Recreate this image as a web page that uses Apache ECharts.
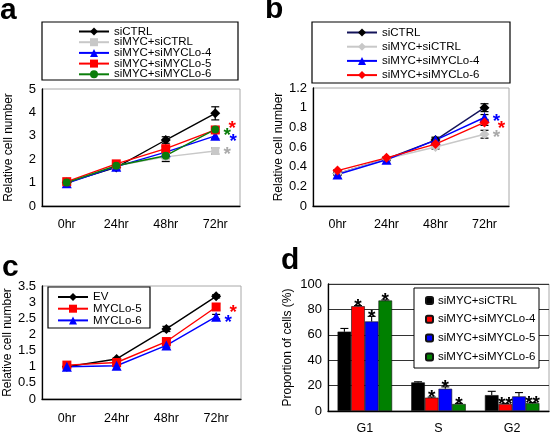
<!DOCTYPE html>
<html><head><meta charset="utf-8">
<script src="https://cdn.jsdelivr.net/npm/echarts@6/dist/echarts.min.js"></script>
<style>html,body{margin:0;padding:0;background:#fff}#c{width:550px;height:435px}</style>
</head><body><div id="c"></div>
<script>
// ---------- data ----------
const hours = ['0hr', '24hr', '48hr', '72hr'];
const phases = ['G1', 'S', 'G2'];

// panel a
const aNames = ['siCTRL', 'siMYC+siCTRL', 'siMYC+siMYCLo-4', 'siMYC+siMYCLo-5', 'siMYC+siMYCLo-6'];
const aCTRL = [1.0, 1.65, 2.82, 3.96];
const aMYC = [1.0, 1.72, 2.1, 2.35];
const aLo4 = [0.97, 1.68, 2.3, 3.0];
const aLo5 = [1.04, 1.8, 2.45, 3.25];
const aLo6 = [1.0, 1.72, 2.15, 3.27];
const aErrCTRL = [0.05, 0.1, 0.14, 0.28];
const aErrMYC = [0.05, 0.08, 0.2, 0.13];
const aErrLo4 = [0.05, 0.08, 0.1, 0.12];
const aErrLo5 = [0.05, 0.05, 0.1, 0.12];
const aErrLo6 = [0.05, 0.08, 0.12, 0.1];
const aStarVals = [2.35, 2.91, 3.46, 3.16]; // gray, blue, red, green

// panel b
const bNames = ['siCTRL', 'siMYC+siCTRL', 'siMYC+siMYCLo-4', 'siMYC+siMYCLo-6'];
const bCTRL = [0.33, 0.48, 0.67, 1.0];
const bMYC = [0.33, 0.48, 0.6, 0.73];
const bLo4 = [0.32, 0.47, 0.67, 0.9];
const bLo6 = [0.36, 0.49, 0.63, 0.85];
const bErrCTRL = [0.01, 0.01, 0.03, 0.04];
const bErrMYC = [0.01, 0.01, 0.02, 0.04];
const bErrLo4 = [0.01, 0.01, 0.02, 0.03];
const bErrLo6 = [0.01, 0.01, 0.02, 0.03];
const bStarVals = [0.74, 0.9, 0.83]; // gray, blue, red

// panel c
const cNames = ['EV', 'MYCLo-5', 'MYCLo-6'];
const cEV = [1.0, 1.24, 2.17, 3.18];
const cLo5 = [1.05, 1.13, 1.78, 2.85];
const cLo6 = [1.0, 1.03, 1.66, 2.55];
const cErrEV = [0.03, 0.03, 0.08, 0.05];
const cErrLo5 = [0.03, 0.05, 0.06, 0.1];
const cErrLo6 = [0.03, 0.03, 0.05, 0.07];
const cStarVals = [2.81, 2.5]; // red, blue

// panel d
const dNames = ['siMYC+siCTRL', 'siMYC+siMYCLo-4', 'siMYC+siMYCLo-5', 'siMYC+siMYCLo-6'];
const dCTRL = [62.5, 22.5, 12.5];
const dLo4 = [82.5, 10.5, 5.5];
const dLo5 = [70.5, 17.5, 11.5];
const dLo6 = [87, 5.5, 6.2];
const dErrCTRL = [2.5, 0.5, 3];
const dErrLo4 = [0.5, 0.5, 0.5];
const dErrLo5 = [4, 1.5, 3];
const dErrLo6 = [0.5, 0.5, 0.5];
const dStarCTRL = ['', '', ''];
const dStarLo4 = ['*', '*', '**'];
const dStarLo5 = ['*', '*', ''];
const dStarLo6 = ['*', '*', '**'];

// ---------- styles ----------
const FF = 'Liberation Sans, Arial, sans-serif';
const BLACK = '#000', GRAY = '#c8c8c8', BLUE = '#0000ff', RED = '#ff0000', GREEN = '#0a7d0a';
const STAR_FS = 19;

function xCat(gi, data, margin) {
  return {
    type: 'category', gridIndex: gi, data: data, boundaryGap: true,
    axisLine: { lineStyle: { color: '#000', width: 1.3 } },
    axisTick: { inside: true, length: 4, lineStyle: { color: '#000' } },
    axisLabel: { color: '#000', fontSize: 12.5, fontFamily: FF, margin: margin },
    splitLine: { show: false }
  };
}
function yVal(gi, min, max, interval, name, nameGap, split) {
  return {
    type: 'value', gridIndex: gi, min: min, max: max, interval: interval,
    name: name, nameLocation: 'middle', nameGap: nameGap,
    nameTextStyle: { color: '#000', fontSize: 12, fontFamily: FF },
    axisLine: { show: true, lineStyle: { color: '#000', width: 1.3 } },
    axisTick: { show: false },
    axisLabel: { color: '#000', fontSize: 13, fontFamily: FF, margin: 6 },
    splitLine: { show: !!split, lineStyle: { color: '#333', width: 1 } }
  };
}
function lineS(panel, name, gi, data, color, symbol, size, lineColor) {
  return {
    type: 'line', name: panel + '|' + name, xAxisIndex: gi, yAxisIndex: gi, data: data,
    symbol: symbol, symbolSize: size, showSymbol: true,
    itemStyle: { color: color }, lineStyle: { color: lineColor || color, width: 1.4 },
    z: 4, animation: false
  };
}
function errS(gi, vals, errs) {
  return {
    type: 'custom', xAxisIndex: gi, yAxisIndex: gi, z: 3, silent: true, animation: false,
    data: vals.map((v, i) => [i, v, errs[i]]),
    renderItem: function (params, api) {
      const x = api.value(0), v = api.value(1), e = api.value(2);
      const hi = api.coord([x, v + e]), lo = api.coord([x, v - e]);
      const w = 4, st = { stroke: '#000', lineWidth: 1.2 };
      return { type: 'group', children: [
        { type: 'line', shape: { x1: hi[0], y1: hi[1], x2: lo[0], y2: lo[1] }, style: st },
        { type: 'line', shape: { x1: hi[0] - w, y1: hi[1], x2: hi[0] + w, y2: hi[1] }, style: st },
        { type: 'line', shape: { x1: lo[0] - w, y1: lo[1], x2: lo[0] + w, y2: lo[1] }, style: st }
      ] };
    }
  };
}
function starS(gi, vals, colors, dxs) {
  return {
    type: 'custom', xAxisIndex: gi, yAxisIndex: gi, z: 6, silent: true, animation: false, clip: false,
    data: vals.map(v => [3, v]),
    renderItem: function (params, api) {
      const p = api.coord([api.value(0), api.value(1)]);
      return { type: 'text', style: {
        text: '*', x: p[0] + dxs[params.dataIndex], y: p[1] + STAR_FS * 0.22,
        align: 'center', verticalAlign: 'middle', fill: colors[params.dataIndex],
        font: 'bold ' + STAR_FS + 'px ' + FF } };
    }
  };
}
const BAR_GAP = 0.26;
function barS(name, data, color) {
  return {
    type: 'bar', name: 'd|' + name, xAxisIndex: 3, yAxisIndex: 3, data: data,
    barGap: '0%', barCategoryGap: (BAR_GAP * 100) + '%',
    itemStyle: { color: color, borderColor: '#111', borderWidth: 0.6 }, z: 3, animation: false
  };
}
function barErrS(vals, errs, stars, pos) {
  return {
    type: 'custom', xAxisIndex: 3, yAxisIndex: 3, z: 5, silent: true, animation: false, clip: false,
    data: vals.map((v, i) => [i, v, errs[i]]),
    renderItem: function (params, api) {
      const bw = api.size([1, 0])[0];
      const barW = bw * (1 - BAR_GAP) / 4;
      const v = api.value(1), e = api.value(2);
      const top = api.coord([api.value(0), v + e]);
      const base = api.coord([api.value(0), v]);
      const cx = top[0] + (pos - 1.5) * barW;
      const st = { stroke: '#000', lineWidth: 1.1 };
      const ch = [
        { type: 'line', shape: { x1: cx, y1: base[1], x2: cx, y2: top[1] }, style: st },
        { type: 'line', shape: { x1: cx - 4, y1: top[1], x2: cx + 4, y2: top[1] }, style: st }
      ];
      const s = stars[params.dataIndex];
      if (s) ch.push({ type: 'text', style: { text: s, x: cx, y: top[1] - 3 + STAR_FS * 0.22,
        align: 'center', verticalAlign: 'middle', fill: '#000', font: 'bold ' + STAR_FS + 'px ' + FF } });
      return { type: 'group', children: ch };
    }
  };
}
function legend(panel, names, o) {
  return Object.assign({
    orient: 'vertical', padding: 0, z: 10,
    itemWidth: 30, itemHeight: 10, selectedMode: false,
    textStyle: { color: '#000', fontSize: 11.5, fontFamily: FF },
    data: names.map(n => panel + '|' + n),
    formatter: n => n.split('|')[1]
  }, o);
}
function box(x, y, w, h) {
  return { type: 'rect', z: 5, shape: { x: x, y: y, width: w, height: h },
    style: { fill: '#fff', stroke: '#000', lineWidth: 1.2 } };
}
const gridStyle = { show: true, borderColor: '#a8a8a8', borderWidth: 1, backgroundColor: 'transparent' };

const option = {
  animation: false,
  grid: [
    Object.assign({ left: 42, top: 89, width: 198, height: 117 }, gridStyle),
    Object.assign({ left: 313, top: 88, width: 196, height: 118 }, gridStyle),
    Object.assign({ left: 42, top: 286, width: 199, height: 113 }, gridStyle),
    Object.assign({ left: 328, top: 284, width: 221, height: 130 }, gridStyle)
  ],
  xAxis: [xCat(0, hours, 12), xCat(1, hours, 12), xCat(2, hours, 13), xCat(3, phases, 11)],
  yAxis: [
    yVal(0, 0, 5, 1, 'Relative cell number', 27),
    yVal(1, 0, 1.2, 0.2, 'Relative cell number', 27),
    yVal(2, 0, 3.5, 0.5, 'Relative cell number', 27),
    yVal(3, 0, 100, 20, 'Proportion of cells (%)', 34, true)
  ],
  legend: [
    legend('a', aNames, { left: 78, top: 25.5, itemGap: -1.3 }),
    legend('b', bNames, { left: 346, top: 26.5, itemGap: 2.2 }),
    legend('c', cNames, { left: 57, top: 291, itemGap: -0.3 }),
    legend('d', dNames, { left: 425, top: 294.5, itemGap: 6.8, itemWidth: 7, itemHeight: 7 })
  ],
  graphic: [
    box(42, 22, 196, 58),
    box(312, 22, 198, 61),
    box(48, 287, 102, 41),
    Object.assign(box(414, 288, 125, 80), { style: { fill: '#fff', stroke: '#000', lineWidth: 1 } }),
    { type: 'text', left: 0, top: -4, style: { text: 'a', font: 'bold 30px ' + FF, fill: '#000' } },
    { type: 'text', left: 265, top: -5, style: { text: 'b', font: 'bold 30px ' + FF, fill: '#000' } },
    { type: 'text', left: 2, top: 253, style: { text: 'c', font: 'bold 30px ' + FF, fill: '#000' } },
    { type: 'text', left: 281, top: 246, style: { text: 'd', font: 'bold 30px ' + FF, fill: '#000' } }
  ],
  series: [
    // panel a
    errS(0, aCTRL, aErrCTRL), errS(0, aMYC, aErrMYC), errS(0, aLo4, aErrLo4), errS(0, aLo5, aErrLo5), errS(0, aLo6, aErrLo6),
    lineS('a', aNames[0], 0, aCTRL, BLACK, 'diamond', 10),
    lineS('a', aNames[1], 0, aMYC, GRAY, 'rect', 8),
    lineS('a', aNames[2], 0, aLo4, BLUE, 'triangle', 10),
    lineS('a', aNames[3], 0, aLo5, RED, 'rect', 9),
    lineS('a', aNames[4], 0, aLo6, GREEN, 'circle', 8),
    starS(0, aStarVals, ['#aaaaaa', BLUE, RED, GREEN], [12, 18, 17, 12]),
    // panel b
    errS(1, bCTRL, bErrCTRL), errS(1, bMYC, bErrMYC), errS(1, bLo4, bErrLo4), errS(1, bLo6, bErrLo6),
    lineS('b', bNames[0], 1, bCTRL, BLACK, 'diamond', 10, '#14145a'),
    lineS('b', bNames[1], 1, bMYC, '#c8c8c8', 'diamond', 10),
    lineS('b', bNames[2], 1, bLo4, BLUE, 'triangle', 10),
    lineS('b', bNames[3], 1, bLo6, RED, 'diamond', 10),
    starS(1, bStarVals, ['#aaaaaa', BLUE, RED], [12, 12, 17]),
    // panel c
    errS(2, cEV, cErrEV), errS(2, cLo5, cErrLo5), errS(2, cLo6, cErrLo6),
    lineS('c', cNames[0], 2, cEV, BLACK, 'diamond', 10),
    lineS('c', cNames[1], 2, cLo5, RED, 'rect', 9),
    lineS('c', cNames[2], 2, cLo6, BLUE, 'triangle', 10),
    starS(2, cStarVals, [RED, BLUE], [17, 12]),
    // panel d
    barS(dNames[0], dCTRL, '#000000'),
    barS(dNames[1], dLo4, '#ff0000'),
    barS(dNames[2], dLo5, '#0000ff'),
    barS(dNames[3], dLo6, '#008000'),
    barErrS(dCTRL, dErrCTRL, dStarCTRL, 0),
    barErrS(dLo4, dErrLo4, dStarLo4, 1),
    barErrS(dLo5, dErrLo5, dStarLo5, 2),
    barErrS(dLo6, dErrLo6, dStarLo6, 3)
  ]
};
const chart = echarts.init(document.getElementById('c'), null, { renderer: 'canvas' });
chart.setOption(option);
</script>
</body></html>
